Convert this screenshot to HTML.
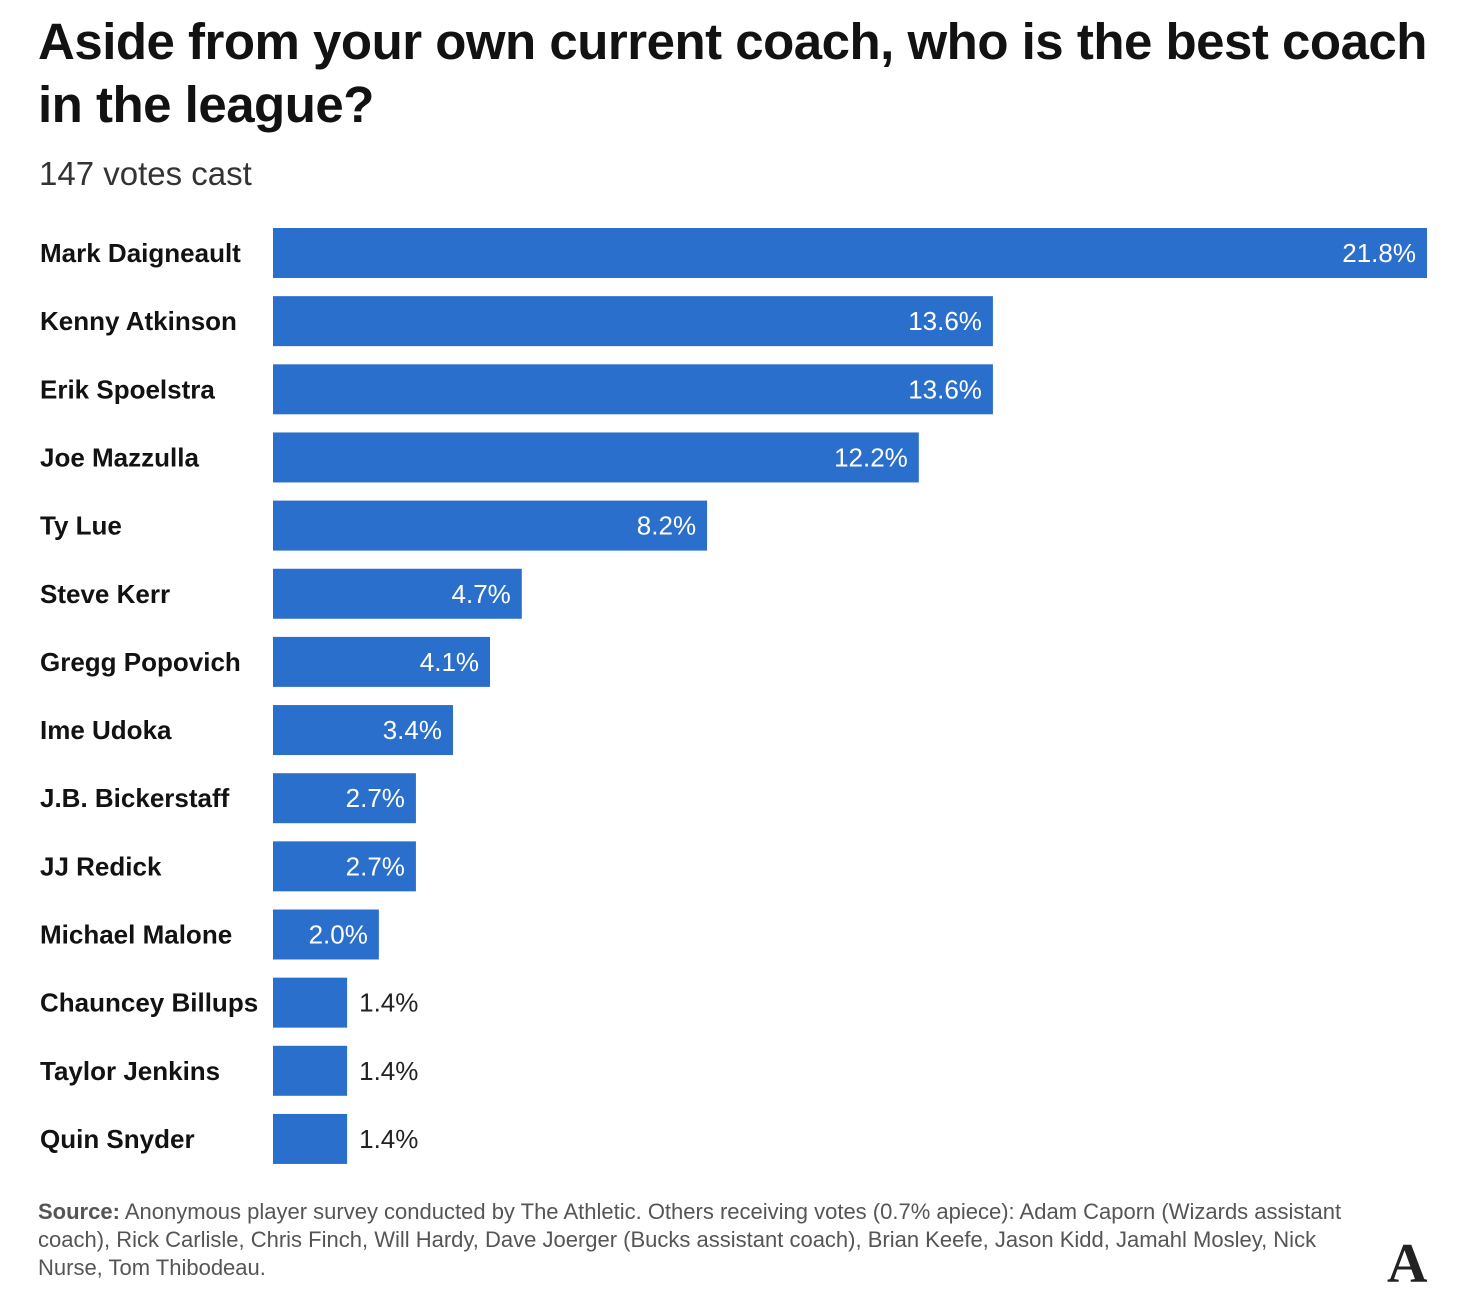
<!DOCTYPE html>
<html><head><meta charset="utf-8"><style>
body{margin:0;background:#fff;width:1460px;height:1315px;overflow:hidden;font-family:"Liberation Sans",sans-serif;color:#121212}
h1{position:absolute;left:38px;top:10px;margin:0;font-size:51px;line-height:63px;font-weight:bold;letter-spacing:-0.5px;width:1400px}
.sub{position:absolute;left:39px;top:155px;font-size:33px;color:#333}
.src{position:absolute;left:38px;top:1198px;width:1330px;font-size:22px;line-height:28px;color:#555}
.logo{position:absolute;left:1387px;top:1232px;font-family:"Liberation Serif",serif;font-size:56px;font-weight:bold;color:#222}
</style></head><body>
<h1>Aside from your own current coach, who is the best coach in the league?</h1>
<div class="sub">147 votes cast</div>
<svg id="chart" width="1460" height="1190" style="position:absolute;left:0;top:0"></svg>
<div class="src"><b>Source:</b> Anonymous player survey conducted by The Athletic. Others receiving votes (0.7% apiece): Adam Caporn (Wizards assistant coach), Rick Carlisle, Chris Finch, Will Hardy, Dave Joerger (Bucks assistant coach), Brian Keefe, Jason Kidd, Jamahl Mosley, Nick Nurse, Tom Thibodeau.</div>
<div class="logo">A</div>
<script>
const categories=["Mark Daigneault","Kenny Atkinson","Erik Spoelstra","Joe Mazzulla","Ty Lue","Steve Kerr","Gregg Popovich","Ime Udoka","J.B. Bickerstaff","JJ Redick","Michael Malone","Chauncey Billups","Taylor Jenkins","Quin Snyder"];
const values=[21.8,13.6,13.6,12.2,8.2,4.7,4.1,3.4,2.7,2.7,2.0,1.4,1.4,1.4];
const NS="http://www.w3.org/2000/svg";
const svg=document.getElementById('chart');
const x0=273,pxPer=1154/21.8,top0=228,step=68.15,bh=50;
const xs=v=>v*pxPer;
const ys=i=>top0+i*step;
categories.forEach((c,i)=>{
  const y=ys(i),w=xs(values[i]);
  const t=document.createElementNS(NS,'text');
  
  
  t.setAttribute('x',40);t.setAttribute('y',y+bh/2+9);
  t.setAttribute('font-size','26');t.setAttribute('font-weight','bold');t.setAttribute('fill','#121212');
  t.textContent=c;svg.appendChild(t);
  const r=document.createElementNS(NS,'rect');
  
  
  r.setAttribute('x',x0);r.setAttribute('y',y);r.setAttribute('width',w);r.setAttribute('height',bh);
  r.setAttribute('fill','#2b6fcc');svg.appendChild(r);
  const v=document.createElementNS(NS,'text');
  
  
  const inside=values[i]>=1.9;
  v.setAttribute('x',inside?x0+w-11:x0+w+12);
  v.setAttribute('text-anchor',inside?'end':'start');
  v.setAttribute('y',y+bh/2+9);v.setAttribute('font-size','26');
  v.setAttribute('fill',inside?'#fff':'#222');
  v.textContent=values[i].toFixed(1)+'%';svg.appendChild(v);
});
</script>
</body></html>
